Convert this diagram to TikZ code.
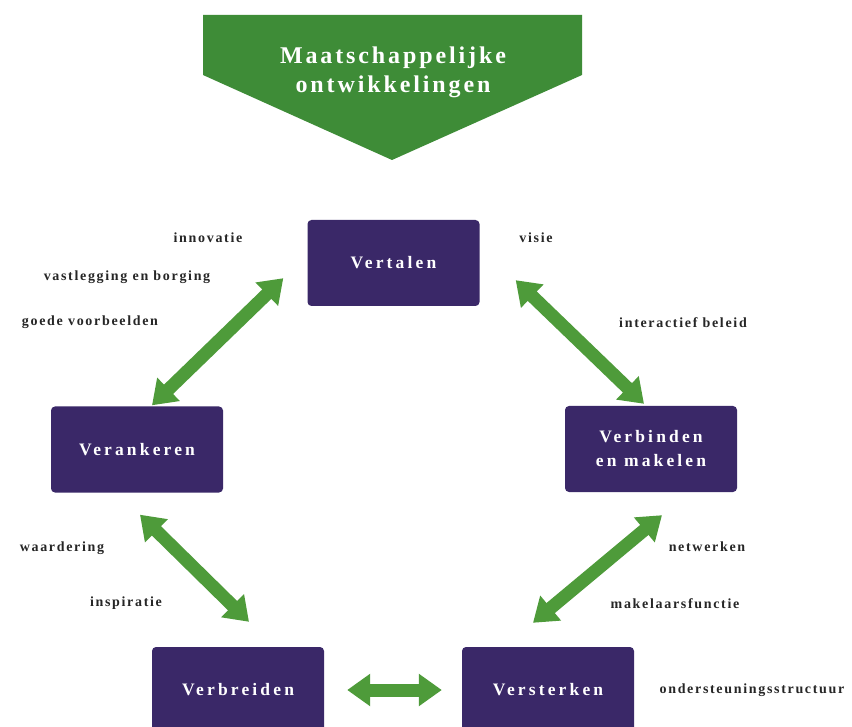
\documentclass[tikz,border=0pt]{standalone}
\usepackage{fontspec}
\setmainfont{Liberation Serif}
\newfontfamily\stagefont[LetterSpace=18]{Liberation Serif}
\newfontfamily\bannerfont[LetterSpace=12]{Liberation Serif}
\newfontfamily\remarkfont[LetterSpace=12]{Liberation Serif}
\usepackage{tikz}
\usetikzlibrary{arrows.meta,calc}
\definecolor{stagepurple}{RGB}{58,40,104}
\definecolor{bannergreen}{RGB}{62,140,55}
\definecolor{arrowgreen}{RGB}{78,155,58}
\tikzset{
	stage/.style={fill=stagepurple, rounded corners=4pt, minimum width=172pt, minimum height=86pt, text=white, align=center, font=\stagefont\bfseries\fontsize{17.5}{24}\selectfont},
	remark/.style={text=black!85, font=\remarkfont\bfseries\fontsize{14}{16}\selectfont},
	twoway/.style={arrowgreen, line width=13pt, {Triangle[width=31pt,length=23pt]}-{Triangle[width=31pt,length=23pt]}}
}

\begin{document}
\begin{tikzpicture}[x=1pt,y=-1pt]
	\clip (0,0) rectangle (852,727);
	\fill[white] (0,0) rectangle (852,727);
	\fill[bannergreen] (203,15) -- (582,15) -- (582,75) -- (392,160) -- (203,75) -- cycle;
	\node[text=white, align=center, font=\bannerfont\bfseries\fontsize{24}{29}\selectfont] (trends) at (393,72) {Maatschappelijke\\ontwikkelingen};
	\node[stage] (vertalen) at (393.5,263) {Vertalen};
	\node[stage] (verankeren) at (137,449.5) {Verankeren};
	\node[stage] (verbinden) at (651,449) {Verbinden\\en makelen};
	\node[stage] (verbreiden) at (238,690) {Verbreiden};
	\node[stage] (versterken) at (548,690) {Versterken};
	\draw[twoway] ($(verankeren.north)+(15,-1)$) -- ($(vertalen.south west)+(-24,-28)$);
	\draw[twoway] ($(vertalen.south east)+(36,-26)$) -- ($(verbinden.north)+(-7,-2)$);
	\draw[twoway] ($(verankeren.south)+(3,22)$) -- ($(verbreiden.north)+(11,-25)$);
	\draw[twoway] ($(verbinden.south)+(11,23)$) -- ($(versterken.north)+(-15,-24)$);
	\draw[twoway] ($(verbreiden.east)+(23,0)$) -- ($(versterken.west)+(-20,0)$);
	\node[remark] (innovatie) at (208,238) {innovatie};
	\node[remark] (borging) at (127,277) {vastlegging en borging};
	\node[remark] (voorbeelden) at (90,322) {goede voorbeelden};
	\node[remark] (visie) at (536,238) {visie};
	\node[remark] (beleid) at (683,323) {interactief beleid};
	\node[remark] (waardering) at (62,548) {waardering};
	\node[remark] (inspiratie) at (126,603) {inspiratie};
	\node[remark] (netwerken) at (707,547) {netwerken};
	\node[remark] (makelaar) at (675,604) {makelaarsfunctie};
	\node[remark] (ondersteuning) at (752,690) {ondersteuningsstructuur};
\end{tikzpicture}
\end{document}
